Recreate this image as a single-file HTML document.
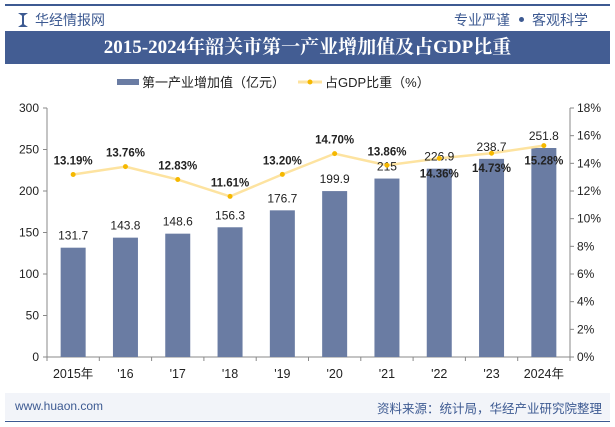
<!DOCTYPE html>
<html><head><meta charset="utf-8"><style>
body{margin:0;width:615px;height:427px;background:#fff;font-family:"Liberation Sans","Noto Sans CJK SC",sans-serif;position:relative;overflow:hidden}
.abs{position:absolute}
</style></head><body>
<div class="abs" style="left:5px;top:4px;width:605px;height:2px;background:#3d5a92"></div>
<div class="abs" style="left:18px;top:13px;width:10px;height:14px;background:#3d5a92;clip-path:polygon(0 0,40% 20%,40% 80%,0 100%,100% 100%,60% 80%,60% 20%,100% 0)"></div>
<div class="abs" style="left:35px;top:10px;font-size:14px;color:#3d5a92">华经情报网</div>
<div class="abs" style="right:105px;top:10px;font-size:14px;color:#3d5a92">专业严谨</div>
<div class="abs" style="left:519px;top:17px;width:5px;height:5px;border-radius:50%;background:#3d5a92"></div>
<div class="abs" style="left:532px;top:10px;font-size:14px;color:#3d5a92">客观科学</div>
<div class="abs" style="left:5px;top:31px;width:605px;height:33px;background:#435d93;color:#fff;font-family:'Liberation Serif','Noto Serif CJK SC',serif;font-weight:bold;font-size:19px;line-height:33px;text-align:center">2015-2024年韶关市第一产业增加值及占GDP比重</div>
<svg class="abs" style="left:0;top:0" width="615" height="427">
<g id="legend">
<rect x="117" y="79" width="22" height="6" fill="#6a7ca3"/>
<text x="142" y="87" font-size="13" fill="#222">第一产业增加值（亿元）</text>
<line x1="298" y1="82" x2="322" y2="82" stroke="#fde3a0" stroke-width="3"/>
<circle cx="310" cy="82" r="2.5" fill="#f5b800"/>
<text x="325" y="87" font-size="13" fill="#222">占GDP比重（%）</text>
</g>
<g id="plot"></g>
</svg>
<div class="abs" style="left:5px;top:393px;width:605px;height:27px;background:#f2f4f9"></div>
<div class="abs" style="left:15px;top:399px;font-size:12px;color:#3d5a92">www.huaon.com</div>
<div class="abs" style="right:13px;top:398px;font-size:12.5px;color:#3d5a92">资料来源：统计局，华经产业研究院整理</div>
<div class="abs" style="left:5px;top:421px;width:605px;height:1px;background:#3d5a92"></div>
<script>
const categories=["2015年","'16","'17","'18","'19","'20","'21","'22","'23","2024年"];
const values=[131.7,143.8,148.6,156.3,176.7,199.9,215,226.9,238.7,251.8];
const shares=[13.19,13.76,12.83,11.61,13.20,14.70,13.86,14.36,14.73,15.28];
const leftTicks=[0,50,100,150,200,250,300];
const rightTicks=[0,2,4,6,8,10,12,14,16,18];
const NS="http://www.w3.org/2000/svg";
const g=document.getElementById('plot');
const X0=47,X1=570,Y0=357,Y1=108;
const band=(X1-X0)/categories.length;
const xc=i=>X0+band*(i+0.5);
const yL=v=>Y0-(v/300)*(Y0-Y1);
const yR=v=>Y0-(v/18)*(Y0-Y1);
function el(t,a,txt){const e=document.createElementNS(NS,t);for(const k in a)e.setAttribute(k,a[k]);if(txt!==undefined)e.textContent=txt;g.appendChild(e);return e;}
let e=el('line',{x1:X0,y1:Y1,x2:X0,y2:Y0,stroke:'#888'});

e=el('line',{x1:X1,y1:Y1,x2:X1,y2:Y0,stroke:'#888'});

e=el('line',{x1:X0,y1:Y0,x2:X1,y2:Y0,stroke:'#888'});

leftTicks.forEach(v=>{el('line',{x1:X0-4,x2:X0,y1:yL(v),y2:yL(v),stroke:'#888'});
 e=el('text',{x:X0-8,y:yL(v)+4,'font-size':12,'text-anchor':'end',fill:'#222'},v);
 });
rightTicks.forEach(v=>{el('line',{x1:X1,x2:X1+4,y1:yR(v),y2:yR(v),stroke:'#888'});
 e=el('text',{x:X1+7,y:yR(v)+4,'font-size':12,fill:'#222'},v+'%');
 });
for(let i=0;i<=categories.length;i++)el('line',{x1:X0+band*i,x2:X0+band*i,y1:Y0,y2:Y0+4,stroke:'#888'});
categories.forEach((c,i)=>{
 e=el('text',{x:xc(i),y:Y0+21,'font-size':12.5,'text-anchor':'middle',fill:'#222'},c);
 
 e=el('rect',{x:xc(i)-12.5,y:yL(values[i]),width:25,height:Y0-yL(values[i]),fill:'#6a7ca3'});
 
});
e=el('polyline',{points:shares.map((s,i)=>xc(i)+','+yR(s)).join(' '),fill:'none',stroke:'#fde3a0','stroke-width':2.5});

values.forEach((v,i)=>{
 e=el('text',{x:xc(i),y:yL(v)-8,'font-size':12,'text-anchor':'middle',fill:'#222'},v);
 
});
shares.forEach((s,i)=>{
 e=el('circle',{cx:xc(i),cy:yR(s),r:2.5,fill:'#f5b800'});
 
 const below=i>=7;
 e=el('text',{x:xc(i),y:below?yR(s)+19:yR(s)-10,'font-size':11.5,'font-weight':'bold','text-anchor':'middle',fill:'#222'},s.toFixed(2)+'%');
 
});
</script>
</body></html>
